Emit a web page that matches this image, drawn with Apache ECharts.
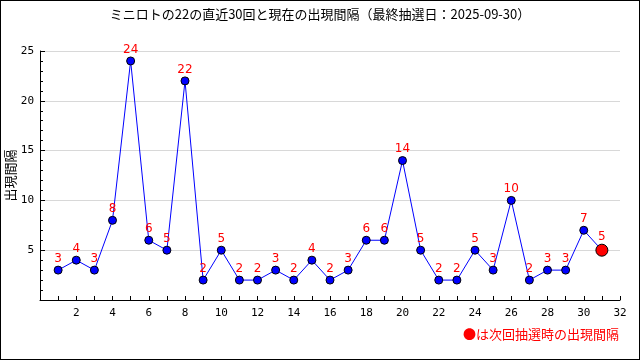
<!DOCTYPE html>
<html><head><meta charset="utf-8">
<script src="https://cdn.jsdelivr.net/npm/echarts@6/dist/echarts.min.js"></script>
<style>html,body{margin:0;padding:0;background:#fff}#c{width:638px;height:358px;border:1px solid #000}</style>
</head><body><div id="c"></div>
<script>
const titleText = 'ミニロトの22の直近30回と現在の出現間隔（最終抽選日：2025-09-30）';
const drawNumbers = [1,2,3,4,5,6,7,8,9,10,11,12,13,14,15,16,17,18,19,20,21,22,23,24,25,26,27,28,29,30];
const intervals = [3,4,3,8,24,6,5,22,2,5,2,2,3,2,4,2,3,6,6,14,5,2,2,5,3,10,2,3,3,7];
const nextDraw = 31;
const currentInterval = 5;
const yAxisName = '出現間隔';
const noteText = '●は次回抽選時の出現間隔';

const font = "'Noto Sans CJK JP', 'DejaVu Sans', sans-serif";
const data = drawNumbers.map((x,i)=>[x, intervals[i]]);
data.push({value:[nextDraw, currentInterval], symbolSize:12, itemStyle:{color:'#ff0000', borderColor:'#000', borderWidth:1}});

const chart = echarts.init(document.getElementById('c'));
chart.setOption({
  animation:false,
  title:{text:titleText, left:'center', top:2, textStyle:{fontSize:13, fontWeight:'normal', color:'#000', fontFamily:font}},
  graphic:[{type:'text', right:20, top:327, style:{text:noteText, fill:'#ff0000', font:'13px '+font}}],
  grid:{left:39, right:19, top:50, bottom:59, containLabel:false, outerBoundsMode:'none'},
  xAxis:{type:'value', min:0, max:32, interval:2,
    axisLine:{lineStyle:{color:'#000'}},
    axisTick:{inside:true, length:4, lineStyle:{color:'#000'}},
    minorTick:{show:true, splitNumber:2, length:4, lineStyle:{color:'#000'}},
    splitLine:{show:false},
    axisLabel:{color:'#000', fontSize:11, fontFamily:'DejaVu Sans Mono', margin:8, formatter:v=>v===0?'':String(v)}},
  yAxis:{type:'value', min:0, max:25, interval:5, name:yAxisName, nameLocation:'middle', nameGap:23, nameRotate:90, nameMoveOverlap:false,
    nameTextStyle:{color:'#000', fontSize:13, fontFamily:font},
    axisLine:{show:true, lineStyle:{color:'#000'}},
    axisTick:{inside:true, length:5, lineStyle:{color:'#000'}},
    minorTick:{show:true, splitNumber:5, length:3, lineStyle:{color:'#000'}},
    splitLine:{show:true, lineStyle:{color:'#d8d8d8'}},
    axisLabel:{color:'#000', fontSize:11, fontFamily:'DejaVu Sans Mono', margin:6, formatter:v=>v===0?'':String(v)}},
  series:[{type:'line', data:data, symbol:'circle', symbolSize:8,
    lineStyle:{color:'#0000ff', width:1},
    itemStyle:{color:'#0000ff', borderColor:'#000', borderWidth:1},
    label:{show:true, position:'top', distance:1, color:'#ff0000', fontSize:12, fontFamily:'DejaVu Sans', formatter:p=>String(p.value[1])}}]
});
</script></body></html>
